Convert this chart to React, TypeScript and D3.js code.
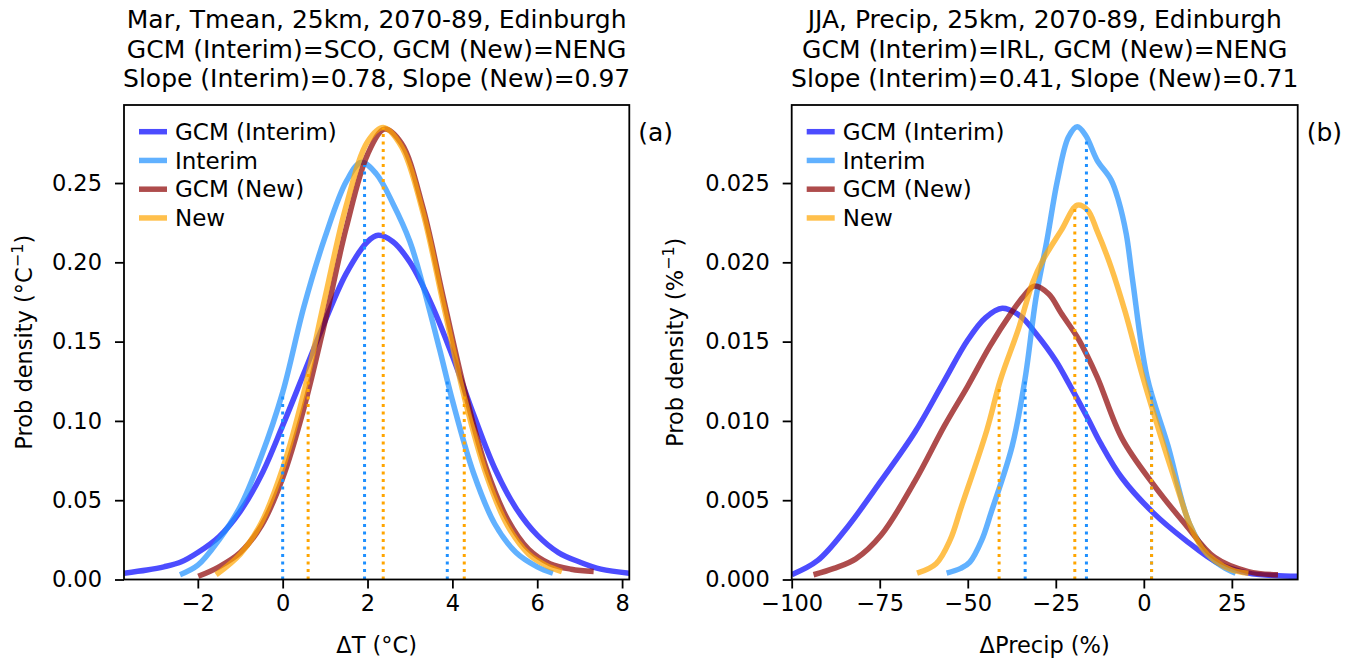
import React, { useEffect, useRef } from 'react';
import * as d3 from 'd3';

// ---- panel (a): March mean temperature change ----
const tempXTicks = [-2, 0, 2, 4, 6, 8];
const tempYTicks = [0, 0.05, 0.1, 0.15, 0.2, 0.25];
const tempGcmInterim: [number, number][] = [
  [-3.74, 0.004], [-3.2, 0.006], [-2.8, 0.008], [-2.4, 0.011], [-2.0, 0.017], [-1.5, 0.027],
  [-1.0, 0.043], [-0.5, 0.066], [0, 0.097], [0.5, 0.13], [1.0, 0.163], [1.5, 0.193],
  [2.0, 0.213], [2.25, 0.217], [2.6, 0.213], [3.0, 0.2], [3.5, 0.174], [4.0, 0.141],
  [4.5, 0.104], [5.0, 0.07], [5.5, 0.045], [6.0, 0.028], [6.5, 0.017], [7.0, 0.011],
  [7.5, 0.0065], [8.17, 0.004],
];
const tempInterim: [number, number][] = [
  [-2.42, 0.003], [-2.0, 0.009], [-1.5, 0.025], [-1.0, 0.046], [-0.5, 0.078], [0, 0.118],
  [0.5, 0.172], [1.0, 0.216], [1.5, 0.251], [1.85, 0.263], [2.2, 0.256], [2.6, 0.237],
  [3.0, 0.213], [3.3, 0.186], [3.7, 0.145], [4.0, 0.113], [4.5, 0.067], [5.0, 0.035],
  [5.5, 0.017], [6.0, 0.008], [6.37, 0.004],
];
const tempGcmNew: [number, number][] = [
  [-1.99, 0.002], [-1.5, 0.008], [-1.0, 0.017], [-0.5, 0.034], [0, 0.064], [0.5, 0.108],
  [1.0, 0.163], [1.5, 0.222], [2.0, 0.268], [2.4, 0.284], [2.8, 0.275], [3.3, 0.235],
  [3.8, 0.176], [4.3, 0.118], [4.8, 0.07], [5.3, 0.038], [5.8, 0.019], [6.3, 0.01],
  [6.8, 0.0065], [7.33, 0.005],
];
const tempNew: [number, number][] = [
  [-1.57, 0.003], [-1.0, 0.016], [-0.5, 0.036], [0, 0.07], [0.5, 0.118], [1.0, 0.178],
  [1.5, 0.236], [2.0, 0.276], [2.37, 0.285], [2.8, 0.273], [3.3, 0.232], [3.8, 0.172],
  [4.3, 0.113], [4.8, 0.066], [5.3, 0.034], [5.8, 0.016], [6.2, 0.009], [6.58, 0.005],
];
// 10th / 50th / 90th percentiles
const tempInterimPct = [0.0, 1.93, 3.88];
const tempNewPct = [0.6, 2.37, 4.28];

// ---- panel (b): JJA precipitation change ----
const precXTicks = [-100, -75, -50, -25, 0, 25];
const precYTicks = [0, 0.005, 0.01, 0.015, 0.02, 0.025];
const precGcmInterim: [number, number][] = [
  [-100, 0.0003], [-92.6, 0.0012], [-84.2, 0.0033], [-74.7, 0.0062], [-65, 0.0093],
  [-57, 0.0124], [-50, 0.0151], [-45, 0.0165], [-40.2, 0.0171], [-35, 0.0166],
  [-30.6, 0.0155], [-25, 0.0138], [-21.4, 0.0124], [-16, 0.0102], [-12.3, 0.0086],
  [-6.2, 0.0064], [2.7, 0.0042], [11.7, 0.0025], [21.3, 0.001], [29.7, 0.0004],
  [37, 0.00025], [43.7, 0.0002],
];
const precInterim: [number, number][] = [
  [-56, 0.0004], [-52, 0.0007], [-49.4, 0.0011], [-46, 0.0025], [-43.4, 0.0042],
  [-37.4, 0.0084], [-33.7, 0.0127], [-30.6, 0.0178], [-27.5, 0.0214], [-24.5, 0.0252],
  [-21.4, 0.0279], [-18.9, 0.02855], [-16.5, 0.028], [-13.3, 0.02645], [-9.3, 0.0252],
  [-7.2, 0.0239], [-5, 0.0218], [-3.2, 0.0189], [0.9, 0.0128], [6.9, 0.0084],
  [13, 0.0035], [18.9, 0.0014], [22.5, 0.0008], [26.1, 0.0004],
];
const precGcmNew: [number, number][] = [
  [-93.8, 0.0003], [-88, 0.0007], [-81.8, 0.0013], [-74.6, 0.0028], [-65, 0.0062],
  [-56.6, 0.0097], [-50, 0.0122], [-43.75, 0.0147], [-37.7, 0.0168], [-34, 0.0179],
  [-31.1, 0.0185], [-27, 0.018], [-23.5, 0.0168], [-18.4, 0.0151], [-13.3, 0.0128],
  [-6.2, 0.0089], [2.7, 0.006], [11.7, 0.0035], [20.1, 0.0014], [29.7, 0.0005], [38.1, 0.0003],
];
const precNew: [number, number][] = [
  [-64.4, 0.0004], [-59, 0.001], [-55, 0.0025], [-51.8, 0.0046], [-44.6, 0.0094],
  [-40.7, 0.0126], [-35.6, 0.0158], [-31.6, 0.0187], [-28.5, 0.0202], [-23.5, 0.022],
  [-18.9, 0.0236], [-16, 0.0233], [-13.3, 0.022], [-9.3, 0.0197], [-5.2, 0.0168],
  [-0.2, 0.0127], [5.7, 0.0084], [9.5, 0.0058], [13, 0.0035], [16.5, 0.002],
  [20.1, 0.0012], [25, 0.0006], [29.7, 0.0004],
];
const precInterimPct = [-33.7, -16.3, 2.2];
const precNewPct = [-41.1, -19.6, 2.2];

const seriesNames = ['GCM (Interim)', 'Interim', 'GCM (New)', 'New'];
const seriesColors = ['#0000ff', '#1e90ff', '#8b0000', '#ffa500'];

const FONT = 'DejaVu Sans, sans-serif';

const panels = [
  {
    box: { x0: 124, x1: 629.3, y0: 105, y1: 579.5 },
    xDomain: [-3.74, 8.17], yDomain: [0, 0.2992],
    xTicks: tempXTicks, yTicks: tempYTicks, yFmt: '.2f',
    curves: [tempGcmInterim, tempInterim, tempGcmNew, tempNew],
    pctInterim: tempInterimPct, pctNew: tempNewPct,
    title: ['Mar, Tmean, 25km, 2070-89, Edinburgh', 'GCM (Interim)=SCO, GCM (New)=NENG', 'Slope (Interim)=0.78, Slope (New)=0.97'],
    xLabel: 'ΔT (°C)', yUnit: '°C', tag: '(a)', yLabelX: 32,
  },
  {
    box: { x0: 791.7, x1: 1297.7, y0: 105, y1: 579.5 },
    xDomain: [-100, 43.7], yDomain: [0, 0.02992],
    xTicks: precXTicks, yTicks: precYTicks, yFmt: '.3f',
    curves: [precGcmInterim, precInterim, precGcmNew, precNew],
    pctInterim: precInterimPct, pctNew: precNewPct,
    title: ['JJA, Precip, 25km, 2070-89, Edinburgh', 'GCM (Interim)=IRL, GCM (New)=NENG', 'Slope (Interim)=0.41, Slope (New)=0.71'],
    xLabel: 'ΔPrecip (%)', yUnit: '%', tag: '(b)', yLabelX: 683,
  },
];

function valueAt(curve: [number, number][], x: number) {
  const xs = curve.map((d) => d[0]);
  const ys = curve.map((d) => d[1]);
  return d3.scaleLinear().domain(xs).range(ys).clamp(true)(x);
}

function drawPanel(svg: d3.Selection<SVGSVGElement, unknown, null, undefined>, p: typeof panels[0]) {
  const { x0, x1, y0, y1 } = p.box;
  const x = d3.scaleLinear().domain(p.xDomain).range([x0, x1]);
  const y = d3.scaleLinear().domain(p.yDomain).range([y1, y0]);
  const cx = (x0 + x1) / 2;

  const clipId = 'clip' + p.tag.replace(/\W/g, '');
  svg.append('clipPath').attr('id', clipId)
    .append('rect').attr('x', x0).attr('y', y0).attr('width', x1 - x0).attr('height', y1 - y0);

  const plot = svg.append('g').attr('clip-path', `url(#${clipId})`);

  const line = d3.line<[number, number]>()
    .x((d) => x(d[0]))
    .y((d) => y(d[1]))
    .curve(d3.curveCatmullRom.alpha(0.5));

  p.curves.forEach((c, i) => {
    plot.append('path')
      .attr('d', line(c))
      .attr('fill', 'none')
      .attr('stroke', seriesColors[i])
      .attr('stroke-opacity', 0.7)
      .attr('stroke-width', 5.5)
      .attr('stroke-linejoin', 'round');
  });

  // percentile markers (dotted), Interim then New
  const pctSets = [
    { pcts: p.pctInterim, curve: p.curves[1], color: '#1e90ff' },
    { pcts: p.pctNew, curve: p.curves[3], color: '#ffa500' },
  ];
  pctSets.forEach((s) => {
    plot.selectAll(null)
      .data(s.pcts)
      .join('line')
        .attr('x1', (d) => x(d))
        .attr('x2', (d) => x(d))
        .attr('y1', y(0))
        .attr('y2', (d) => y(valueAt(s.curve, d)))
        .attr('stroke', s.color)
        .attr('stroke-width', 3)
        .attr('stroke-dasharray', '3 4.5');
  });

  // axes
  const xAxis = d3.axisBottom(x).tickValues(p.xTicks).tickSize(9).tickPadding(7)
    .tickFormat((d) => d3.format('d')(d as number));
  const yAxis = d3.axisLeft(y).tickValues(p.yTicks).tickSize(9).tickPadding(13)
    .tickFormat((d) => d3.format(p.yFmt)(d as number));

  const gx = svg.append('g').attr('transform', `translate(0,${y1})`).call(xAxis);
  const gy = svg.append('g').attr('transform', `translate(${x0},0)`).call(yAxis);
  [gx, gy].forEach((g) => {
    g.select('.domain').remove();
    g.selectAll('line').attr('stroke', '#000').attr('stroke-width', 1.8);
    g.selectAll('text').attr('fill', '#000').style('font-family', FONT).style('font-size', '22.5px');
  });

  svg.append('rect')
    .attr('x', x0).attr('y', y0).attr('width', x1 - x0).attr('height', y1 - y0)
    .attr('fill', 'none').attr('stroke', '#000').attr('stroke-width', 1.8);

  // titles
  const t = svg.append('text').attr('text-anchor', 'middle')
    .style('font-family', FONT).style('font-size', '25px');
  p.title.forEach((s, i) => {
    t.append('tspan').attr('x', cx).attr('y', 28 + i * 29.5).text(s);
  });

  svg.append('text').attr('x', cx).attr('y', 653).attr('text-anchor', 'middle')
    .style('font-family', FONT).style('font-size', '22.5px').text(p.xLabel);

  const yl = svg.append('text')
    .attr('transform', `translate(${p.yLabelX},${(y0 + y1) / 2}) rotate(-90)`)
    .attr('text-anchor', 'middle')
    .style('font-family', FONT).style('font-size', '22.5px');
  yl.append('tspan').text(`Prob density (${p.yUnit}`);
  yl.append('tspan').attr('dy', -9).style('font-size', '16px').text('−1');
  yl.append('tspan').attr('dy', 9).text(')');

  svg.append('text').attr('x', x1 + 9).attr('y', 141)
    .style('font-family', FONT).style('font-size', '25px').text(p.tag);

  // legend
  const lg = svg.append('g');
  seriesNames.forEach((name, i) => {
    const ly = 131.7 + i * 28.75;
    lg.append('line')
      .attr('x1', x0 + 15).attr('x2', x0 + 43).attr('y1', ly).attr('y2', ly)
      .attr('stroke', seriesColors[i]).attr('stroke-opacity', 0.7).attr('stroke-width', 5.5);
    lg.append('text').attr('x', x0 + 51).attr('y', ly).attr('dy', '0.36em')
      .style('font-family', FONT).style('font-size', '23px').text(name);
  });
}

export default function App() {
  const ref = useRef<SVGSVGElement>(null);

  useEffect(() => {
    const svg = d3.select(ref.current!);
    svg.selectAll('*').remove();
    panels.forEach((p) => drawPanel(svg, p));
  }, []);

  return (
    <div style={{ position: 'absolute', left: 0, top: 0 }}>
      <svg ref={ref} width={1359} height={659} style={{ display: 'block', background: '#fff' }} />
    </div>
  );
}
